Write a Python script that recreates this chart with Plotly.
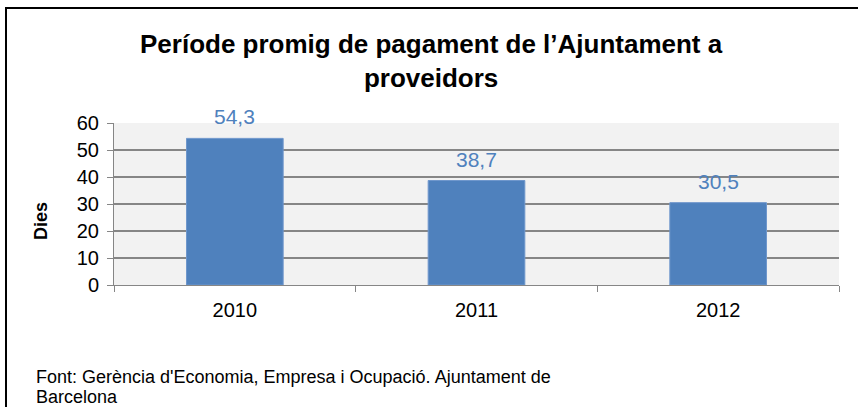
import plotly.graph_objects as go

# Average payment period of the City Council to suppliers (days)
years = ["2010", "2011", "2012"]
days = [54.3, 38.7, 30.5]
y_ticks = [0, 10, 20, 30, 40, 50, 60]

W, H = 858, 407
L, R, T, B = 114, 19, 123, 122
FONT = "Liberation Sans, Arial, sans-serif"
BLUE = "#4f81bd"

plot_w = W - L - R
plot_h = H - T - B


def px_x(p):
    return (p - L) / plot_w


def px_y(p):
    return (H - B - p) / plot_h


fig = go.Figure(
    go.Bar(
        x=years,
        y=days,
        width=0.4,
        marker=dict(color=BLUE, line=dict(color="#6f97cc", width=1)),
        hoverinfo="skip",
    )
)

# value labels above the bars, decimal comma
for i, v in enumerate(days):
    fig.add_annotation(
        x=i, y=v, xref="x", yref="y",
        text=f"{v:.1f}".replace(".", ","),
        showarrow=False, yanchor="bottom", yshift=8,
        font=dict(family=FONT, size=21, color=BLUE),
    )

# title
fig.add_annotation(
    xref="paper", yref="paper", x=px_x(431), y=px_y(61),
    xanchor="center", yanchor="middle",
    text="<b>Període promig de pagament de l’Ajuntament a<br>proveidors</b>",
    showarrow=False, align="center",
    font=dict(family=FONT, size=26, color="black"),
)

# y axis title
fig.add_annotation(
    xref="paper", yref="paper", x=px_x(41), y=px_y(221),
    xanchor="center", yanchor="middle", textangle=-90,
    text="<b>Dies</b>", showarrow=False,
    font=dict(family=FONT, size=18, color="black"),
)

# source note
source_lines = [
    "Font: Gerència d'Economia, Empresa i Ocupació. Ajuntament de",
    "Barcelona",
]
for k, line in enumerate(source_lines):
    fig.add_annotation(
        xref="paper", yref="paper", x=px_x(34), y=px_y(377 + 20 * k),
        xanchor="left", yanchor="middle",
        text=line, showarrow=False, align="left",
        font=dict(family=FONT, size=18, color="black"),
    )

# outer frame
fig.add_shape(
    type="rect", xref="paper", yref="paper",
    x0=px_x(6), y0=px_y(W), x1=px_x(W + 20), y1=px_y(8),
    line=dict(color="black", width=2), fillcolor="rgba(0,0,0,0)",
    layer="below",
)

fig.update_layout(
    width=W, height=H,
    margin=dict(l=L, r=R, t=T, b=B),
    paper_bgcolor="white",
    plot_bgcolor="#f2f2f2",
    showlegend=False,
    font=dict(family=FONT, size=20, color="black"),
    xaxis=dict(
        type="category",
        tickson="boundaries",
        ticks="outside", ticklen=6, tickcolor="#868686", tickwidth=1,
        showline=True, linecolor="#868686", linewidth=1,
        showgrid=False,
        tickfont=dict(family=FONT, size=20, color="black"),
        ticklabelstandoff=7,
        range=[-0.5, 2.5],
    ),
    yaxis=dict(
        range=[0, 60],
        tickvals=y_ticks,
        ticks="outside", ticklen=6, tickcolor="#868686", tickwidth=1,
        showline=True, linecolor="#868686", linewidth=1,
        showgrid=True, gridcolor="#868686", gridwidth=1.5,
        zeroline=False,
        tickfont=dict(family=FONT, size=20, color="black"),
        ticklabelstandoff=4,
    ),
)

fig.write_html("out.html")
